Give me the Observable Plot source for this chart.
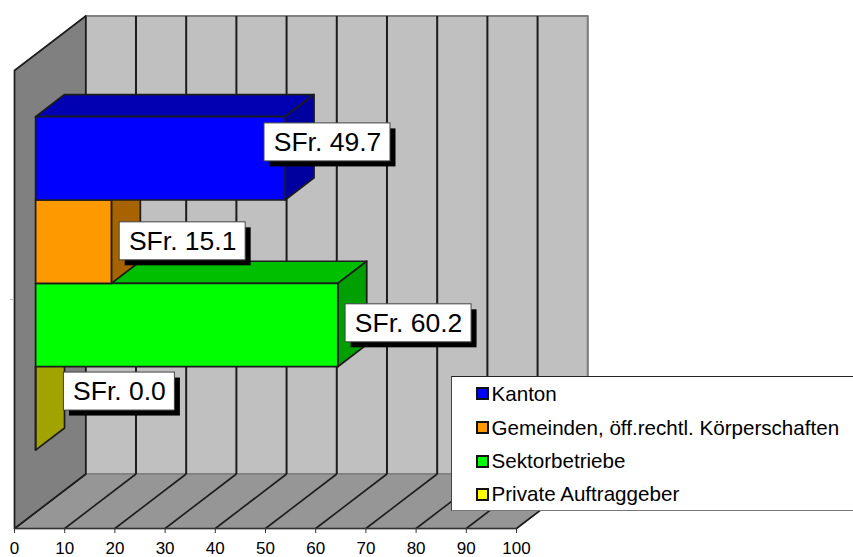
<!DOCTYPE html>
<html>
<head>
<meta charset="utf-8">
<script src="https://cdn.jsdelivr.net/npm/d3@7"></script>
<script src="https://cdn.jsdelivr.net/npm/@observablehq/plot@0.6"></script>
<style>
  html,body{margin:0;padding:0;background:#fff;overflow:hidden}
  #wrap{position:relative;width:853px;height:557px;font-family:"Liberation Sans",Arial,sans-serif}
  #wrap svg{display:block;overflow:visible;position:absolute;left:-0.5px;top:0}
  #legend{position:absolute;left:451px;top:376px;width:402px;height:135px;box-sizing:border-box;background:#fff;
    border-top:1px solid #222;border-left:1px solid #444;border-bottom:1.5px solid #777}
  .row{position:absolute;left:24px;display:flex;align-items:center;height:24px;font-size:20.6px;color:#000;white-space:nowrap}
  .sw{width:9px;height:9px;border:2px solid #111;margin-right:2.5px;flex:none}
</style>
</head>
<body>
<div id="wrap"></div>
<script>
const series = ["Kanton", "Gemeinden, öff.rechtl. Körperschaften", "Sektorbetriebe", "Private Auftraggeber"];
const values = [49.7, 15.1, 60.2, 0.0];
const labels = ["SFr. 49.7", "SFr. 15.1", "SFr. 60.2", "SFr. 0.0"];
const fronts = ["#0000ff", "#ff9900", "#00ff00", "#ffff00"];
const tops   = ["#0000b3", "#b36b00", "#00bf00", "#b3b300"];
const sides  = ["#00009f", "#a66300", "#009f00", "#a3a300"];
const ticks  = [0, 10, 20, 30, 40, 50, 60, 70, 80, 90, 100];
const labelX = [62.35, 33.5, 78.5, 20.9];
const labelY = [0.843, 0.627, 0.448, 0.299];
const labelW = [25.1, 25.1, 25.1, 22.1];

// oblique projection of (value, height, depth) into the chart's x / y data space
const DX = 14.2, DY = 0.119, labelH = 0.083;
const P = (v, u, d) => ({x: v + d * DX, y: u + d * DY});
const dark = "#1c1c1c", grey = "#808080";
const poly = (pts, fill, stroke = dark, w = 1.7) =>
  Plot.line(pts, {x: "x", y: "y", fill, stroke, strokeWidth: w, curve: "linear-closed", strokeLinejoin: "round"});

const barH = 0.182, barBase = 0.136, d0 = 0.296, d1 = 0.702;
const barMarks = [];
for (let i = values.length - 1; i >= 0; i--) {
  const lo = barBase + (values.length - 1 - i) * barH, hi = lo + barH, v = values[i];
  barMarks.push(
    poly([P(0, hi, d0), P(v, hi, d0), P(v, hi, d1), P(0, hi, d1)], tops[i]),
    poly([P(v, lo, d0), P(v, hi, d0), P(v, hi, d1), P(v, lo, d1)], sides[i]),
    poly([P(0, lo, d0), P(v, lo, d0), P(v, hi, d0), P(0, hi, d0)], fronts[i])
  );
}

const gridRows = ticks.slice(1, -1);
const boxes = labels.map((t, i) => ({
  t, x: labelX[i], y: labelY[i],
  x1: labelX[i] - labelW[i] / 2, x2: labelX[i] + labelW[i] / 2,
  y1: labelY[i] - labelH / 2, y2: labelY[i] + labelH / 2
}));

const chart = Plot.plot({
  width: 853, height: 557,
  marginLeft: 14, marginRight: 337, marginTop: 70, marginBottom: 29,
  style: {background: "#fff", fontFamily: '"Liberation Sans", Arial, sans-serif'},
  x: {domain: [0, 100]},
  y: {domain: [0, 1]},
  marks: [
    // back wall, left wall, floor
    poly([P(0, 0, 1), P(100, 0, 1), P(100, 1, 1), P(0, 1, 1)], "#c0c0c0", grey, 2.2),
    poly([P(0, 0, 0), P(100, 0, 0), P(100, 0, 1), P(0, 0, 1)], "#969696", grey, 1.5),
    Plot.link(gridRows, {x1: v => P(v, 0, 1).x, y1: v => P(v, 0, 1).y, x2: v => P(v, 1, 1).x, y2: v => P(v, 1, 1).y, stroke: dark, strokeWidth: 2}),
    Plot.link(ticks, {x1: v => P(v, 0, 0).x, y1: v => P(v, 0, 0).y, x2: v => P(v, 0, 1).x, y2: v => P(v, 0, 1).y, stroke: dark, strokeWidth: 1.6}),
    poly([P(0, 0, 0), P(0, 1, 0), P(0, 1, 1), P(0, 0, 1)], "#808080"),
    Plot.ruleY([0], {x1: 0, x2: 100, stroke: "#333", strokeWidth: 1.7}),
    Plot.axisX({ticks, tickSize: 5, tickPadding: 8.5, fontSize: 17, label: null, anchor: "bottom", stroke: "#333", fill: "#000"}),
    Plot.axisY({ticks: [0.5], tickSize: 4, tickFormat: () => "", label: null, anchor: "left", stroke: "#bbb"}),
    ...barMarks,
    Plot.rect(boxes, {x1: "x1", x2: "x2", y1: "y1", y2: "y2", fill: "#000", dx: 5.5, dy: 5.5}),
    Plot.rect(boxes, {x1: "x1", x2: "x2", y1: "y1", y2: "y2", fill: "#fff", stroke: "#444", strokeWidth: 1}),
    Plot.text(boxes, {x: "x", y: "y", text: "t", fontSize: 26.5, fill: "#000", textAnchor: "middle"})
  ]
});

const wrap = document.getElementById("wrap");
wrap.appendChild(chart);

const legend = document.createElement("div");
legend.id = "legend";
const rowTops = [4.5, 38.5, 72, 105];
series.forEach((name, i) => {
  const row = document.createElement("div");
  row.className = "row";
  row.style.top = rowTops[i] + "px";
  const sw = document.createElement("span");
  sw.className = "sw";
  sw.style.background = fronts[i];
  const tx = document.createElement("span");
  tx.textContent = name;
  row.append(sw, tx);
  legend.appendChild(row);
});
wrap.appendChild(legend);
</script>
</body>
</html>
